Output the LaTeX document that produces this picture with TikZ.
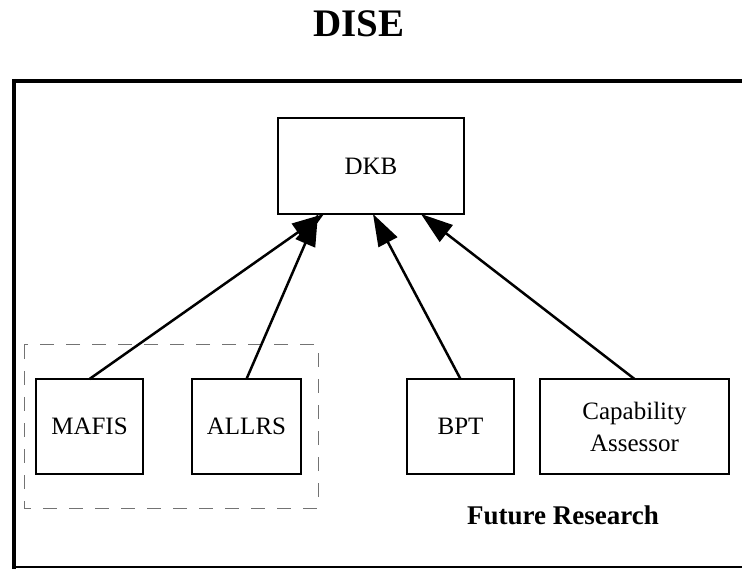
\documentclass[tikz,border=0pt]{standalone}
\usepackage{fontspec}
\setmainfont{Liberation Serif}
\usetikzlibrary{arrows.meta}
\begin{document}
\begin{tikzpicture}[x=1pt,y=-1pt,
  module/.style={draw,line width=2pt,inner sep=0pt,outer sep=0pt,
    minimum height=95pt,align=center,
    font=\fontsize{25}{32}\selectfont},
  link/.style={line width=2.5pt,-{Triangle[length=32pt,width=21pt]}},
  group/.style={draw=black!55,line width=1pt,dash pattern=on 14pt off 12pt}]
  \useasboundingbox (0,0) rectangle (742,569);

  % title
  \node (title) at (359,24) {\fontsize{39}{44}\selectfont\bfseries DISE};

  % outer frame (open on the right)
  \draw[line width=4pt] (742,81) -- (12,81);
  \draw[line width=4pt] (14,79) -- (14,569);
  \draw[line width=2pt] (12,567) -- (742,567);

  % knowledge base
  \node[module,minimum width=186pt,minimum height=96pt] (dkb) at (371,166) {DKB};

  % grouped systems
  \draw[group] (24,345) rectangle (318,508);
  \node[module,minimum width=107pt] (mafis) at (89.5,426.5) {MAFIS};
  \node[module,minimum width=109pt] (allrs) at (246.5,426.5) {ALLRS};

  % future research components
  \node[module,minimum width=107pt] (bpt) at (460.5,426.5) {BPT};
  \node[module,minimum width=189pt] (cap) at (634.5,426.5) {Capability\\Assessor};
  \node (future) at (563,515) {\fontsize{27}{30}\selectfont\bfseries Future Research};

  % connectors into the knowledge base
  \draw[link] (mafis.north) -- ([xshift=-47pt]dkb.south);
  \draw[link] (allrs.north) -- ([xshift=-53pt]dkb.south);
  \draw[link] (bpt.north) -- ([xshift=2pt]dkb.south);
  \draw[link] (cap.north) -- ([xshift=50pt]dkb.south);
\end{tikzpicture}
\end{document}
